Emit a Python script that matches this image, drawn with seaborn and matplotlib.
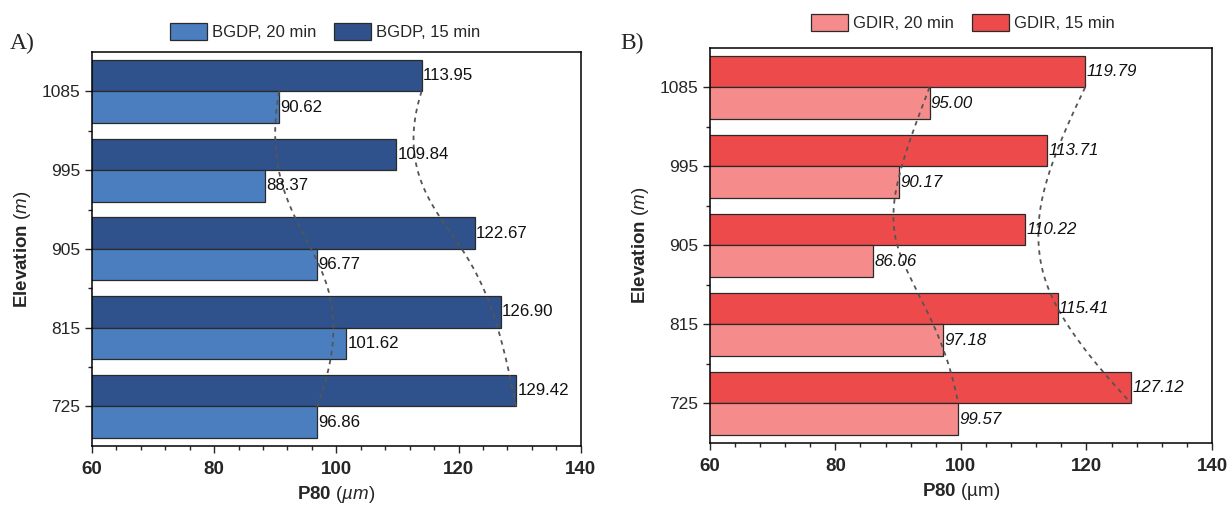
import numpy as np
import pandas as pd
import matplotlib
matplotlib.use("Agg")
import matplotlib.pyplot as plt
import seaborn as sns
from matplotlib.patches import Patch
from matplotlib.ticker import MultipleLocator

# Elevations (top to bottom as drawn)
elevations = ["1085", "995", "905", "815", "725"]

# P80 values (um)
bgdp_20 = [90.62, 88.37, 96.77, 101.62, 96.86]
bgdp_15 = [113.95, 109.84, 122.67, 126.90, 129.42]
gdir_20 = [95.00, 90.17, 86.06, 97.18, 99.57]
gdir_15 = [119.79, 113.71, 110.22, 115.41, 127.12]

sns.set_style("white")
plt.rcParams["font.family"] = ["Liberation Sans", "DejaVu Sans"]
plt.rcParams["mathtext.fontset"] = "custom"
plt.rcParams["mathtext.rm"] = "Liberation Sans"
plt.rcParams["mathtext.it"] = "Liberation Sans:italic"
plt.rcParams["mathtext.bf"] = "Liberation Sans:bold"


def bspline(xs, ys, n=200):
    # clamped cubic B-spline with the bar ends as control points
    ctrl = np.column_stack([xs, ys])
    k = 3
    m = len(ctrl)
    knots = np.concatenate([np.zeros(k), np.arange(m - k + 1), np.full(k, m - k)]).astype(float)
    t = np.linspace(0, m - k, n)
    t[-1] -= 1e-9

    def basis(i, d, tt):
        if d == 0:
            return ((knots[i] <= tt) & (tt < knots[i + 1])).astype(float)
        out = np.zeros_like(tt)
        den1 = knots[i + d] - knots[i]
        den2 = knots[i + d + 1] - knots[i + 1]
        if den1 > 0:
            out += (tt - knots[i]) / den1 * basis(i, d - 1, tt)
        if den2 > 0:
            out += (knots[i + d + 1] - tt) / den2 * basis(i + 1, d - 1, tt)
        return out

    pts = sum(basis(i, k, t)[:, None] * ctrl[i] for i in range(m))
    return pts[:, 0], pts[:, 1]


def panel(ax, name, v20, v15, c20, c15, italic, leg_xy):
    df = pd.DataFrame({
        "Elevation": elevations * 2,
        "P80": v15 + v20,
        "Time": ["15 min"] * 5 + ["20 min"] * 5,
    })
    sns.barplot(data=df, y="Elevation", x="P80", hue="Time", order=elevations,
                hue_order=["15 min", "20 min"], palette=[c15, c20], orient="h",
                width=0.8, saturation=1, edgecolor="#2a2a2a", linewidth=0.9,
                legend=False, ax=ax, errorbar=None)
    ax.set_xlim(60, 140)
    ax.set_ylim(4.5, -0.5)
    pos = np.arange(len(elevations))
    style = "italic" if italic else "normal"
    for vals, off in ((v15, -0.2), (v20, 0.2)):
        for p, v in zip(pos, vals):
            ax.text(v + 0.2, p + off, f"{v:.2f}", va="center", ha="left",
                    fontsize=12.2, style=style, color="#111111")
        cx, cy = bspline(np.array(vals, dtype=float), pos.astype(float))
        ax.plot(cx, cy, ls=(0, (2.5, 2.5)), color="#555555", lw=1.3)

    ax.xaxis.set_major_locator(MultipleLocator(20))
    ax.xaxis.set_minor_locator(MultipleLocator(4))
    ax.set_yticks(pos, minor=False)
    ax.set_yticks(pos[:-1] + 0.5, minor=True)
    ax.tick_params(axis="both", which="major", direction="out", length=5, width=1,
                   bottom=True, left=True, top=False, right=False)
    ax.tick_params(axis="both", which="minor", direction="out", length=3, width=1,
                   bottom=True, left=True, top=False, right=False)
    ax.tick_params(axis="y", labelsize=12.5)
    ax.tick_params(axis="x", labelsize=13.5, pad=6)
    for lab in ax.get_xticklabels():
        lab.set_fontweight("bold")
    for s in ax.spines.values():
        s.set_visible(True)
        s.set_color("black")
        s.set_linewidth(1.1)

    ax.set_ylabel(r"$\mathbf{Elevation}$ $\mathit{(m)}$", fontsize=13.5, labelpad=6)
    if italic:
        ax.set_xlabel(r"$\mathbf{P80}$ (µm)", fontsize=13.5, labelpad=4)
    else:
        ax.set_xlabel(r"$\mathbf{P80}$ $\mathit{(µm)}$", fontsize=13.5, labelpad=4)

    handles = [Patch(facecolor=c20, edgecolor="#2a2a2a", lw=0.9, label=f"{name}, 20 min"),
               Patch(facecolor=c15, edgecolor="#2a2a2a", lw=0.9, label=f"{name}, 15 min")]
    ax.legend(handles=handles, loc="center", bbox_to_anchor=leg_xy,
              ncol=2, frameon=False, fontsize=12, handlelength=2.2,
              handleheight=1.2, columnspacing=1.1, handletextpad=0.3,
              borderaxespad=0, borderpad=0)


fig = plt.figure(figsize=(12.28, 5.09), dpi=100)
ax1 = fig.add_axes([0.0749, 0.124, 0.398, 0.774])
ax2 = fig.add_axes([0.578, 0.130, 0.409, 0.776])

panel(ax1, "BGDP", bgdp_20, bgdp_15, "#4a7ebf", "#30528c", italic=False, leg_xy=(0.477, 1.051))
panel(ax2, "GDIR", gdir_20, gdir_15, "#f58b8b", "#ed4a4b", italic=True, leg_xy=(0.504, 1.065))

fig.text(0.008, 0.915, "A)", fontsize=17, family="Liberation Serif", va="center")
fig.text(0.505, 0.915, "B)", fontsize=17, family="Liberation Serif", va="center")

fig.savefig("out.png", dpi=100)
